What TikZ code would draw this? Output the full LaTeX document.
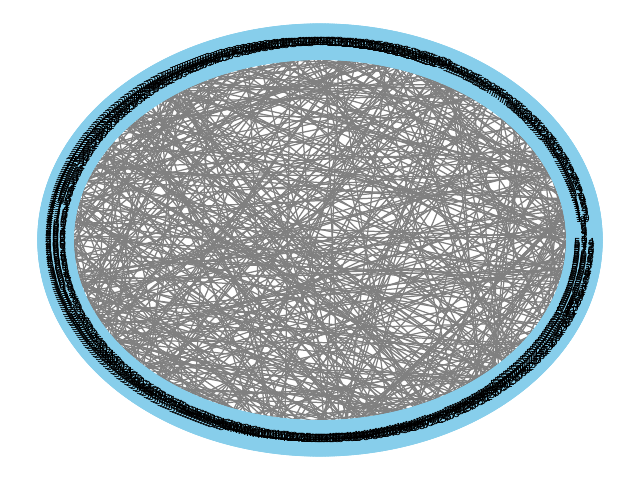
\documentclass[tikz,border=0pt]{standalone}
\usepackage{fontspec}
\setmainfont{DejaVu Sans}
\definecolor{skyblue}{HTML}{87CEEB}
\definecolor{edgegray}{HTML}{808080}
\pgfdeclarelayer{background}
\pgfsetlayers{background,main}
\begin{document}
\begin{tikzpicture}[x=0.01in,y=-0.01in,
  vertex/.style={circle,fill=skyblue,draw=none,minimum size=26.46pt,inner sep=0pt,outer sep=0pt},
  lab/.style={font=\fontsize{8}{9}\selectfont,text=black,inner sep=0pt},
  edge/.style={draw=edgegray,line width=0.9pt}]
\useasboundingbox (0,0) rectangle (640,480);
\foreach \i in {0,...,574}{
  \pgfmathsetmacro\t{0.62608696*\i}
  \node[vertex] (n\i) at ({320+264.46*cos(\t)},{240-198.35*sin(\t)}) {};
}
\begin{pgfonlayer}{background}
\pgfmathsetseed{7}
\foreach \k in {1,...,620}{
  \pgfmathtruncatemacro\a{random(0,574)}
  \pgfmathtruncatemacro\b{mod(\a+random(1,574),575)}
  \draw[edge] (n\a) -- (n\b);
}
\end{pgfonlayer}
\foreach \i in {0,...,574}{
  \node[lab] (l\i) at (n\i) {\i};
}
\end{tikzpicture}
\end{document}
